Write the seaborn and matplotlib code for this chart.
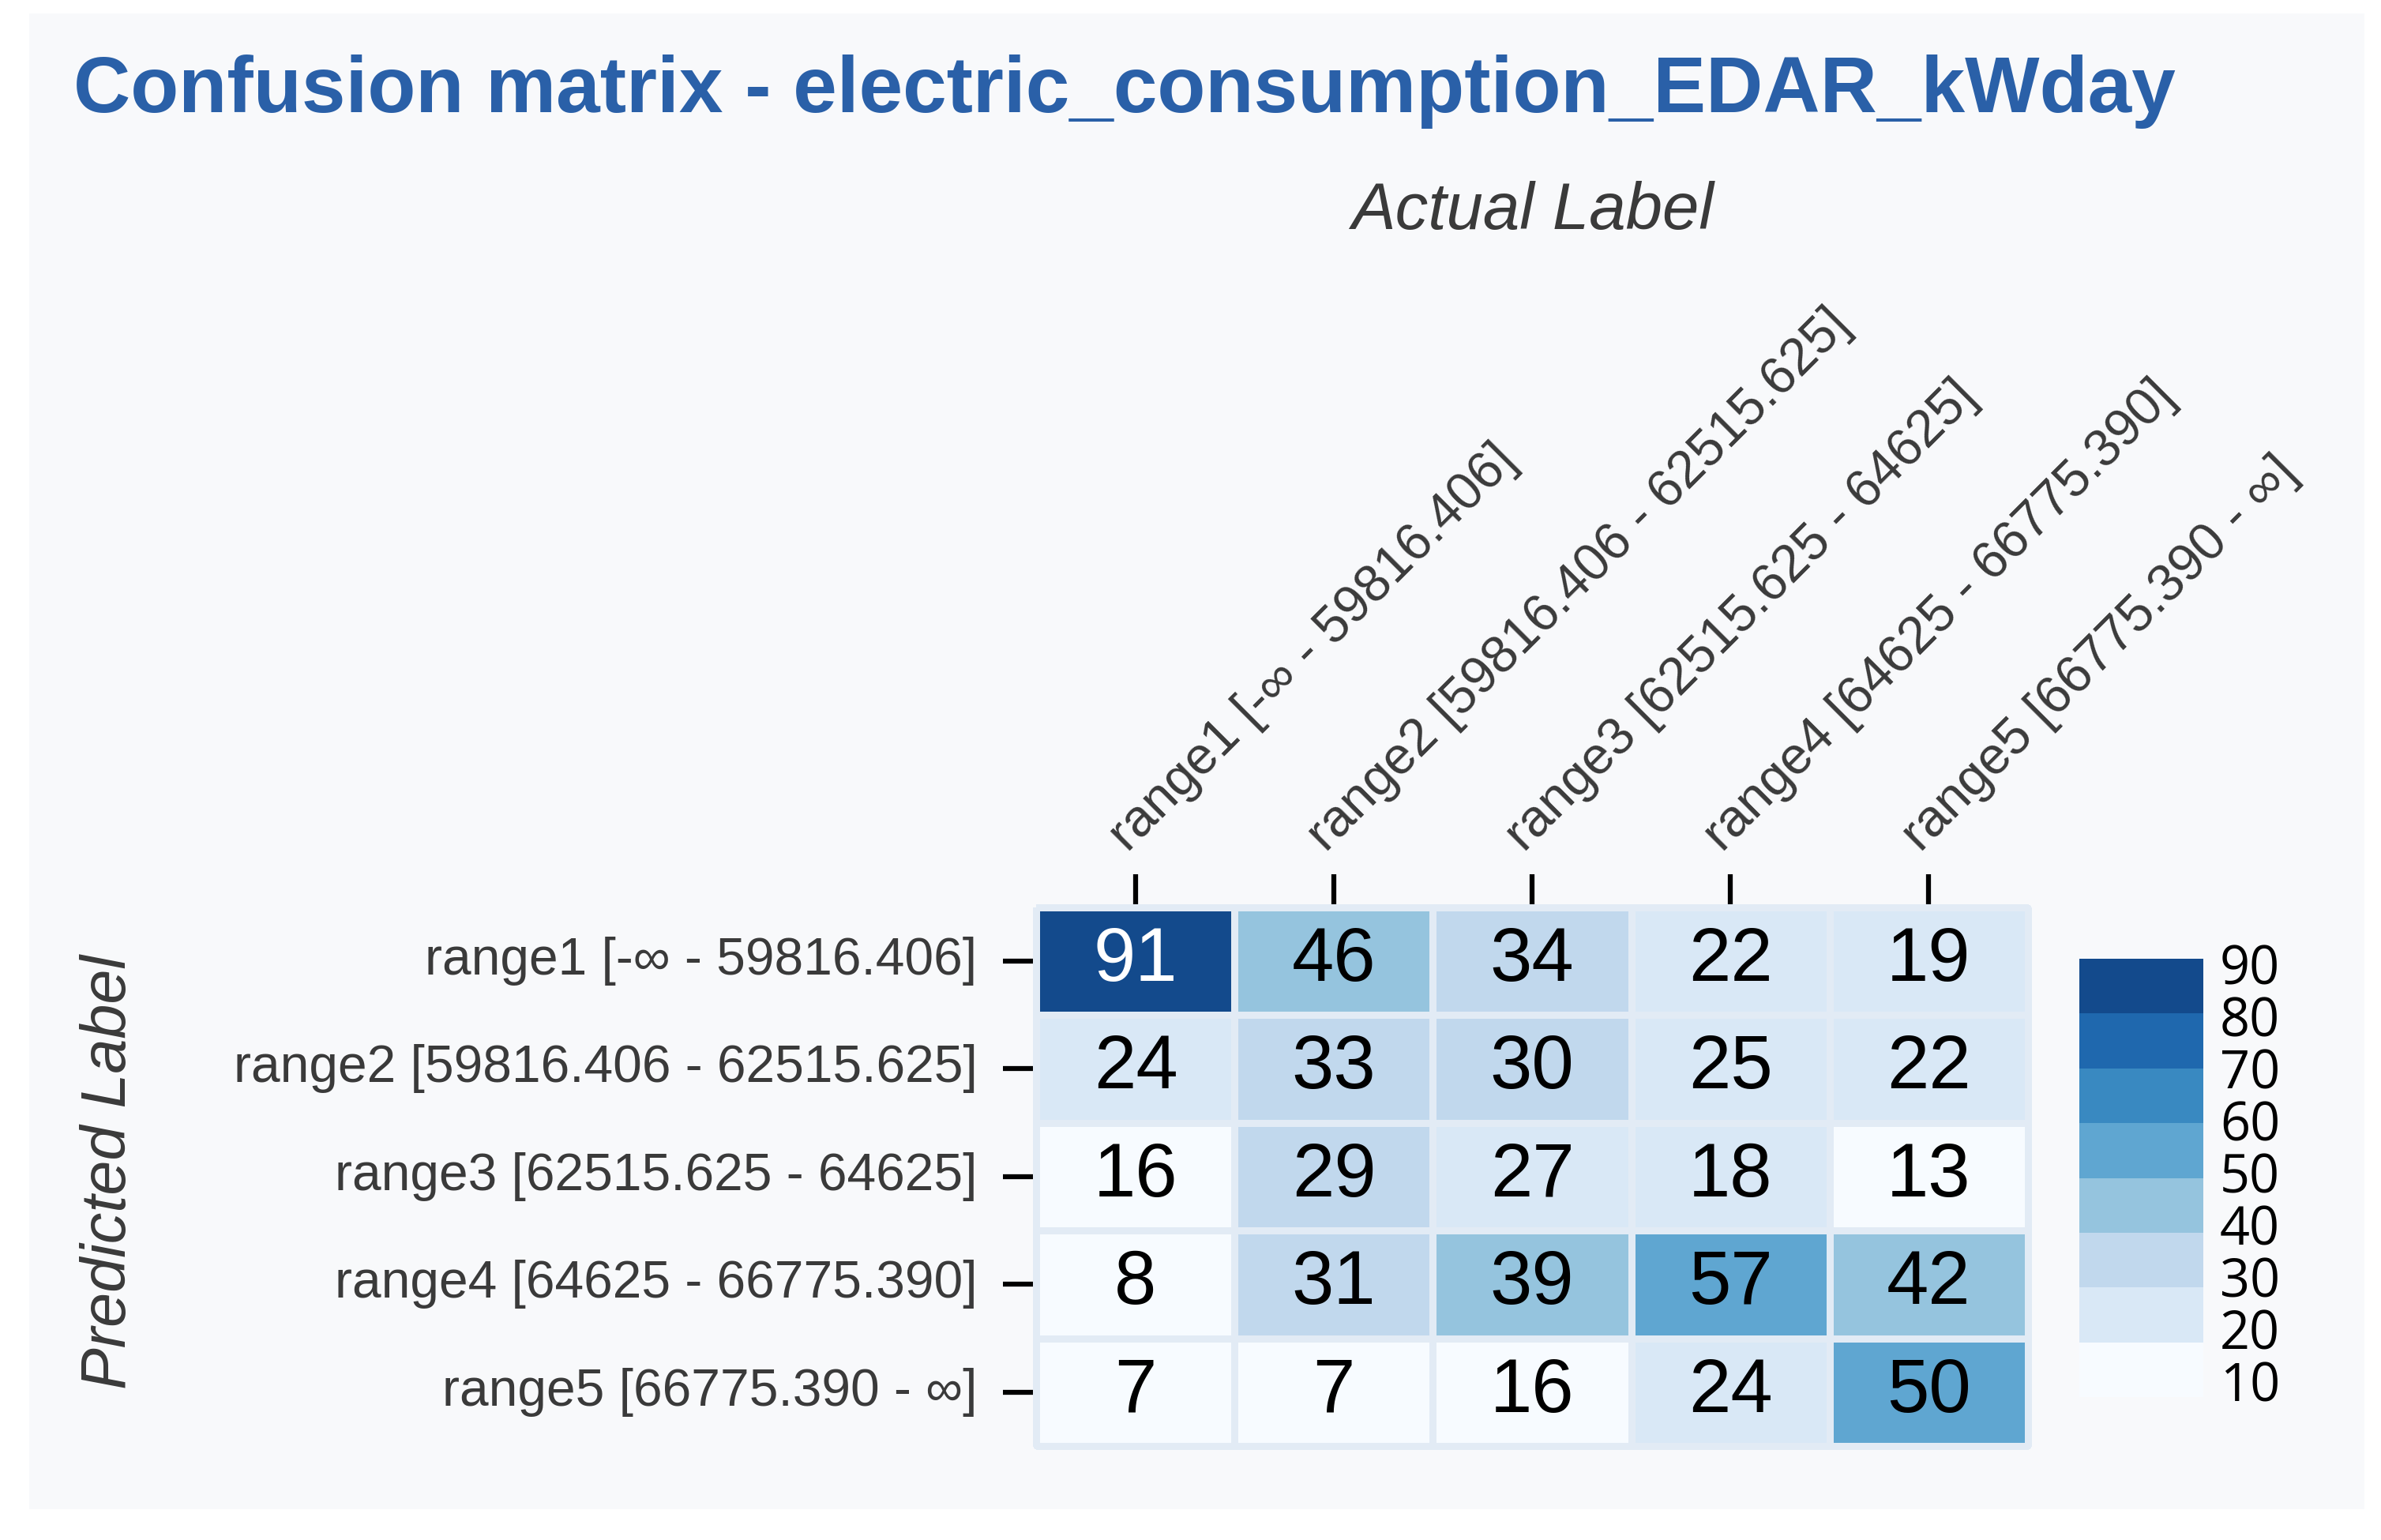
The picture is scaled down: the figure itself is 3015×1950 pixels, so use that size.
import numpy as np
import pandas as pd
import matplotlib
matplotlib.use("Agg")
import matplotlib.pyplot as plt
import seaborn as sns
from matplotlib import font_manager as fm
from matplotlib.colors import ListedColormap
from matplotlib.patches import Rectangle

# ---------------- data ----------------
title = "Confusion matrix - electric_consumption_EDAR_kWday"
actual_labels = [
    "range1 [-∞ - 59816.406]",
    "range2 [59816.406 - 62515.625]",
    "range3 [62515.625 - 64625]",
    "range4 [64625 - 66775.390]",
    "range5 [66775.390 - ∞]",
]
predicted_labels = list(actual_labels)

# rows = predicted, columns = actual
row1 = [91, 46, 34, 22, 19]
row2 = [24, 33, 30, 25, 22]
row3 = [16, 29, 27, 18, 13]
row4 = [8, 31, 39, 57, 42]
row5 = [7, 7, 16, 24, 50]
cbar_ticks = [10, 20, 30, 40, 50, 60, 70, 80, 90]

df = pd.DataFrame([row1, row2, row3, row4, row5],
                  index=predicted_labels, columns=actual_labels)

# ---------------- style ----------------
sns.set_style("white")
plt.rcParams['font.family'] = ['Liberation Sans', 'DejaVu Sans']

names = {f.name for f in fm.fontManager.ttflist}
narrow = 'Liberation Sans Narrow' if 'Liberation Sans Narrow' in names else 'Liberation Sans'
annot_size = 25 if narrow == 'Liberation Sans Narrow' else 23

band_colors = ['#f7fbff', '#d9e8f6', '#c1d8ed', '#95c4de',
               '#5fa6d1', '#3989c1', '#1f68ae', '#134a8c']
cmap = ListedColormap(band_colors)

fig = plt.figure(figsize=(10.05, 6.5), dpi=300, facecolor='white')
fig.patches.append(Rectangle((0.0123, 0.0200), 0.9808, 0.9713,
                             transform=fig.transFigure, facecolor='#f8f9fb',
                             edgecolor='none', zorder=-10))

ax = fig.add_axes([0.4353, 0.0610, 0.4163, 0.3500])
cax = fig.add_axes([0.8733, 0.0928, 0.0521, 0.2846])
ax.set_facecolor('#f8f9fb')

sns.heatmap(df, ax=ax, cbar_ax=cax, cmap=cmap, annot=True, fmt='d',
            annot_kws={'fontsize': annot_size, 'family': [narrow, 'DejaVu Sans'],
                       'color': 'black'},
            linewidths=1.7, linecolor='#e2ebf5')
ax.collections[0].set_clip_on(False)

for t in ax.texts:
    if int(t.get_text()) > 80:
        t.set_color('white')

# axes ticks
ax.xaxis.tick_top()
ax.set_xlabel('')
ax.set_ylabel('')
ax.set_xticklabels(actual_labels, rotation=45, ha='left', rotation_mode='anchor')
ax.set_yticklabels(predicted_labels, rotation=0)
ax.tick_params(axis='both', length=10, width=1.5, color='black',
               labelsize=15.8, labelcolor='#3a3a3a')
ax.tick_params(axis='x', top=True, bottom=False, pad=4)
ax.tick_params(axis='y', left=True, pad=8)

# colorbar
cbar = ax.collections[0].colorbar
cbar.outline.set_visible(False)
cbar.set_ticks(cbar_ticks)
cax.tick_params(direction='in', color='white', length=7.5, width=1.4, pad=5,
                labelsize=16, labelcolor='black', labelfontfamily='Open Sans')

# texts
fig.text(0.0308, 0.9272, title, fontsize=24, fontweight='bold',
         color='#2a60a8', ha='left', va='baseline')
fig.text(0.6435, 0.8513, "Actual Label", fontsize=20, style='italic',
         color='#3a3a3a', ha='center', va='baseline')
fig.text(0.0458, 0.239, "Predicted Label", fontsize=19, style='italic',
         color='#3a3a3a', ha='center', va='center', rotation=90)

fig.savefig('out.png', dpi=300, facecolor='white')
